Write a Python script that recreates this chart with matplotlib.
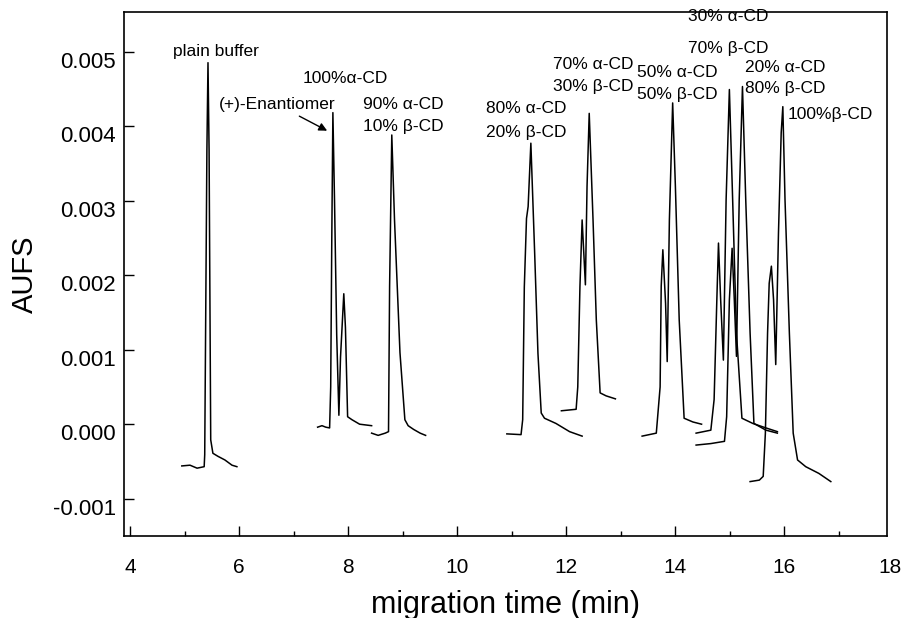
import numpy as np
import matplotlib
matplotlib.use('Agg')
import matplotlib.pyplot as plt
import matplotlib.transforms as mtransforms
from matplotlib.ticker import MultipleLocator, FormatStrFormatter

plt.rcParams['font.family'] = ['Liberation Sans', 'DejaVu Sans']

# electropherogram traces, time in min, signal in units of 0.001 AUFS
t_plain = [4.95, 5.10, 5.23, 5.36, 5.37, 5.41, 5.43, 5.45, 5.48, 5.52, 5.61, 5.74, 5.87, 5.96]
s_plain = [-0.56, -0.55, -0.59, -0.57, -0.41, 3.68, 4.85, 3.68, -0.21, -0.39, -0.43, -0.48, -0.55, -0.57]

t_a100 = [7.44, 7.52, 7.59, 7.66, 7.68, 7.70, 7.72, 7.75, 7.79, 7.83, 7.86, 7.92, 7.95, 7.99, 8.07, 8.21, 8.43]
s_a100 = [-0.04, -0.02, -0.04, -0.05, 0.5, 2.5, 4.18, 3.0, 1.2, 0.12, 0.9, 1.75, 1.3, 0.10, 0.06, 0.0, -0.02]

t_a90 = [8.43, 8.55, 8.68, 8.74, 8.76, 8.80, 8.85, 8.95, 9.04, 9.10, 9.20, 9.32, 9.42]
s_a90 = [-0.12, -0.15, -0.12, -0.10, 1.85, 3.88, 2.74, 0.96, 0.06, -0.02, -0.07, -0.12, -0.15]

t_a80 = [10.91, 11.17, 11.20, 11.23, 11.27, 11.30, 11.35, 11.42, 11.48, 11.54, 11.60, 11.81, 12.06, 12.29]
s_a80 = [-0.13, -0.14, 0.06, 1.84, 2.76, 2.92, 3.77, 2.29, 0.95, 0.15, 0.08, 0.01, -0.10, -0.16]

t_a70 = [11.91, 12.18, 12.21, 12.25, 12.29, 12.35, 12.38, 12.42, 12.49, 12.55, 12.62, 12.73, 12.90]
s_a70 = [0.18, 0.20, 0.50, 1.85, 2.74, 1.87, 3.19, 4.17, 2.74, 1.40, 0.42, 0.38, 0.34]

t_a50 = [13.39, 13.65, 13.72, 13.74, 13.77, 13.82, 13.85, 13.89, 13.95, 14.00, 14.07, 14.16, 14.32, 14.48]
s_a50 = [-0.16, -0.12, 0.50, 1.85, 2.34, 1.62, 0.84, 2.74, 4.31, 3.19, 1.40, 0.08, 0.03, 0.00]

t_a30 = [14.38, 14.65, 14.71, 14.76, 14.79, 14.83, 14.88, 14.93, 14.99, 15.05, 15.12, 15.22, 15.42, 15.66, 15.87]
s_a30 = [-0.12, -0.08, 0.33, 1.67, 2.43, 1.67, 0.86, 3.01, 4.49, 3.01, 1.22, 0.08, 0.01, -0.05, -0.10]

t_a20 = [14.38, 14.65, 14.90, 14.94, 14.99, 15.04, 15.08, 15.12, 15.17, 15.23, 15.29, 15.37, 15.44, 15.66, 15.87]
s_a20 = [-0.28, -0.26, -0.23, 0.10, 1.67, 2.36, 1.67, 0.91, 3.01, 4.53, 3.01, 1.22, 0.01, -0.08, -0.12]

t_b100 = [15.37, 15.54, 15.61, 15.65, 15.69, 15.72, 15.76, 15.80, 15.84, 15.89, 15.94, 15.97, 16.01, 16.09, 16.16, 16.24, 16.39, 16.63, 16.85]
s_b100 = [-0.77, -0.75, -0.70, -0.12, 1.22, 1.89, 2.12, 1.67, 0.80, 2.56, 3.91, 4.26, 3.01, 1.22, -0.12, -0.48, -0.57, -0.66, -0.77]

traces = [(t_plain, s_plain), (t_a100, s_a100), (t_a90, s_a90), (t_a80, s_a80),
          (t_a70, s_a70), (t_a50, s_a50), (t_a30, s_a30), (t_a20, s_a20), (t_b100, s_b100)]

# peak labels: text, left x (min), y (0.001 AUFS)
labels = [
    ("plain buffer", 4.79, 5.00),
    ("100%\u03b1-CD", 7.17, 4.64),
    ("(+)-Enantiomer", 5.63, 4.29),
    ("90% \u03b1-CD", 8.27, 4.29),
    ("10% \u03b2-CD", 8.27, 3.99),
    ("80% \u03b1-CD", 10.52, 4.23),
    ("20% \u03b2-CD", 10.52, 3.92),
    ("70% \u03b1-CD", 11.75, 4.82),
    ("30% \u03b2-CD", 11.75, 4.53),
    ("50% \u03b1-CD", 13.29, 4.72),
    ("50% \u03b2-CD", 13.29, 4.42),
    ("30% \u03b1-CD", 14.24, 5.47),
    ("70% \u03b2-CD", 14.24, 5.04),
    ("20% \u03b1-CD", 15.28, 4.78),
    ("80% \u03b2-CD", 15.28, 4.50),
    ("100%\u03b2-CD", 16.05, 4.15),
]

fig = plt.figure(figsize=(9.04, 6.18), dpi=100)
ax = fig.add_axes([124 / 904, 1 - 536 / 618, (887 - 124) / 904, (536 - 12) / 618])

for t, s in traces:
    ax.plot(t, np.array(s) * 1e-3, color='black', lw=1.1)

for txt, x, y in labels:
    ax.text(x, y * 1e-3, txt, fontsize=12.5, ha='left', va='center')

ax.annotate('', xy=(7.66, 3.92e-3), xytext=(7.06, 4.15e-3),
            arrowprops=dict(arrowstyle='-|>', color='black', lw=1.0, mutation_scale=12))

# the original frame stops just short of 18 min
ax.set_xlim(3.89, 17.88)
ax.set_ylim(-0.0015, 0.00553)
ax.xaxis.set_major_locator(MultipleLocator(2))
ax.xaxis.set_minor_locator(MultipleLocator(1))
ax.set_yticks([-0.001, 0.0, 0.001, 0.002, 0.003, 0.004, 0.005])
ax.yaxis.set_major_formatter(FormatStrFormatter('%.3f'))

xpad = 16
ax.tick_params(which='major', direction='in', length=7, width=1.0)
ax.tick_params(which='minor', direction='in', length=3.5, width=1.0)
ax.tick_params(axis='x', pad=xpad, labelsize=15)
ax.tick_params(axis='y', pad=6, labelsize=16)
for sp in ax.spines.values():
    sp.set_linewidth(1.2)

# the 18 label just outside the frame
lab_trans = ax.get_xaxis_transform() + mtransforms.ScaledTranslation(0, -xpad / 72, fig.dpi_scale_trans)
ax.text(17.94, 0, '18', transform=lab_trans, ha='center', va='top', fontsize=15, clip_on=False)

# the scanned y labels sit a little below their ticks
offset = mtransforms.ScaledTranslation(0, -0.08, fig.dpi_scale_trans)
for lab in ax.get_yticklabels():
    lab.set_transform(lab.get_transform() + offset)

ax.set_xlabel('migration time (min)', fontsize=22, labelpad=9)
ax.set_ylabel('AUFS', fontsize=21, labelpad=10)

fig.savefig('out.png', dpi=100)
